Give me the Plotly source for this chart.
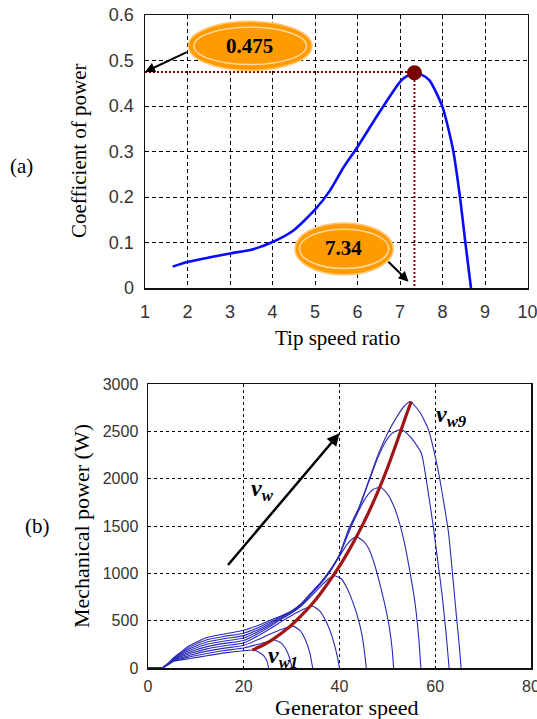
import plotly.graph_objects as go

W, H = 537, 719

# ---------------- (a) Coefficient of power vs tip speed ratio ----------------
tsr = [1.65, 2.0, 2.5, 3.0, 3.5, 4.0, 4.5, 5.0, 5.35, 5.67, 6.0, 6.5, 7.0, 7.15, 7.34, 7.5,
       7.69, 8.0, 8.25, 8.41, 8.53, 8.67]
cp = [0.047, 0.057, 0.067, 0.076, 0.084, 0.101, 0.127, 0.172, 0.214, 0.265, 0.310, 0.384,
      0.453, 0.465, 0.472, 0.469, 0.457, 0.398, 0.303, 0.201, 0.106, 0.0]
opt_tsr = 7.34
opt_cp = 0.475
tsr_ticks = [1, 2, 3, 4, 5, 6, 7, 8, 9, 10]
cp_ticks = [0, 0.1, 0.2, 0.3, 0.4, 0.5, 0.6]

# ---------------- (b) Mechanical power vs generator speed ----------------
vw1_speed = [0, 3, 4.2, 5.4, 8.8, 12.3, 16, 20, 21.8, 22.4, 24.1, 24.8, 25.2]
vw1_power = [0, 2, 35, 72, 100, 130, 160, 183, 190, 188, 134, 80, 0]

vw2_speed = [0, 3, 4.2, 5.4, 8.8, 12.3, 16, 20, 23, 25, 26.4, 27.8, 28.9, 29.6, 30.1]
vw2_power = [0, 2, 37, 77, 118, 154, 185, 212, 250, 280, 295, 265, 190, 100, 0]

vw3_speed = [0, 3, 4.2, 5.4, 8.8, 12.3, 16, 20, 23, 26, 28, 30.4, 31.8, 32.9, 33.8, 34.4]
vw3_power = [0, 2, 39, 82, 135, 178, 210, 238, 300, 370, 410, 440, 395, 295, 160, 0]

vw4_speed = [0, 3, 4.2, 5.4, 8.8, 12.3, 16, 20, 23, 26, 28, 30, 32, 34.3, 35.8, 37.1, 38.2,
             38.9, 39.5, 40]
vw4_power = [0, 2, 41, 87, 153, 202, 235, 264, 340, 430, 495, 555, 610, 655, 605, 502, 370,
             254, 130, 0]

vw5_speed = [0, 3, 4.2, 5.4, 8.8, 12.3, 16, 20, 23, 26, 28, 30, 32, 34, 36, 37.5, 38.9, 40.3,
             41.4, 42.6, 43.6, 44.4, 45, 45.6]
vw5_power = [0, 2, 43, 92, 170, 226, 260, 290, 365, 455, 520, 580, 655, 755, 860, 935, 975,
             945, 860, 720, 573, 420, 254, 0]

vw6_speed = [0, 3, 4.2, 5.4, 8.8, 12.3, 16, 20, 23, 26, 28, 30, 32, 34, 36, 38, 40, 41.5, 42.6,
             43.6, 45, 46.1, 47.4, 48.6, 49.6, 50.4, 51, 51.3]
vw6_power = [0, 2, 45, 97, 188, 250, 285, 316, 385, 470, 530, 588, 665, 775, 885, 1015, 1180,
             1300, 1360, 1385, 1340, 1262, 1080, 855, 640, 431, 200, 0]

vw7_speed = [0, 3, 4.2, 5.4, 8.8, 12.3, 16, 20, 23, 26, 28, 30, 32, 34, 36, 38, 40, 42, 44,
             45.5, 47, 48.6, 50, 51.4, 52.6, 53.6, 54.7, 55.7, 56.5, 57]
vw7_power = [0, 2, 47, 102, 205, 274, 310, 342, 405, 485, 540, 594, 672, 782, 893, 1025, 1192,
             1440, 1660, 1800, 1885, 1910, 1840, 1703, 1520, 1315, 1020, 714, 350, 0]

vw8_speed = [0, 3, 4.2, 5.4, 8.8, 12.3, 16, 20, 23, 26, 28, 30, 32, 34, 36, 38, 40, 42, 44, 46,
             48, 49.5, 51, 53, 55, 57.1, 58.4, 59.6, 60.6, 61.4, 62.2, 62.9]
vw8_power = [0, 2, 49, 107, 223, 298, 335, 368, 425, 500, 548, 598, 677, 787, 897, 1028, 1197,
             1465, 1675, 1950, 2220, 2380, 2480, 2520, 2430, 2269, 1900, 1491, 1100, 785, 400, 0]

vw9_speed = [0, 3, 4.2, 5.4, 8.8, 12.3, 16, 20, 23, 26, 28, 30, 32, 34, 36, 38, 40, 42, 44, 46,
             48, 50, 52, 53.5, 54.8, 56.9, 58.6, 60, 61, 62, 62.8, 63.6, 64.4, 65, 65.4]
vw9_power = [0, 2, 51, 112, 240, 322, 360, 398, 450, 515, 555, 605, 680, 790, 900, 1032, 1200,
             1480, 1690, 1965, 2245, 2475, 2655, 2765, 2815, 2693, 2516, 2233, 1980, 1680, 1420,
             1000, 560, 250, 0]

mppt_speed = [21.8, 24, 26, 28, 30, 32, 34, 36, 38, 40, 42, 44, 46, 48, 50, 52, 54, 55]
mppt_power = [190, 240, 300, 372, 455, 552, 660, 785, 925, 1075, 1245, 1430, 1635, 1860, 2110,
              2390, 2680, 2815]

speed_ticks = [0, 20, 40, 60, 80]
power_ticks = [0, 500, 1000, 1500, 2000, 2500, 3000]

# ---------------- styling ----------------
SERIF = "Liberation Serif, Times New Roman, serif"
SANS = "Liberation Sans, Arial, sans-serif"
BLUE_TOP = "#0a0aff"
BLUE_BOT = "#2a2ab8"
DARK_RED = "#8b0000"
MPPT_RED = "#a01515"
ORANGE = "#ff9a00"


def px_x(p):
    return p / W


def px_y(p):
    return 1 - p / H


fig = go.Figure()

# (a) traces
fig.add_trace(go.Scatter(x=tsr, y=cp, mode="lines",
                         line=dict(color=BLUE_TOP, width=2.6, shape="spline", smoothing=0.6),
                         xaxis="x", yaxis="y", hoverinfo="skip"))
fig.add_trace(go.Scatter(x=[tsr_ticks[0], opt_tsr], y=[opt_cp, opt_cp], mode="lines",
                         line=dict(color=DARK_RED, width=2, dash="2px,2px"),
                         xaxis="x", yaxis="y", hoverinfo="skip"))
fig.add_trace(go.Scatter(x=[opt_tsr, opt_tsr], y=[opt_cp, 0], mode="lines",
                         line=dict(color=DARK_RED, width=2, dash="2px,2px"),
                         xaxis="x", yaxis="y", hoverinfo="skip"))
fig.add_trace(go.Scatter(x=[opt_tsr], y=[opt_cp - 0.002], mode="markers",
                         marker=dict(color="#7a0000", size=15), xaxis="x", yaxis="y",
                         hoverinfo="skip"))

# (b) traces
curves = [(vw1_speed, vw1_power), (vw2_speed, vw2_power), (vw3_speed, vw3_power),
          (vw4_speed, vw4_power), (vw5_speed, vw5_power), (vw6_speed, vw6_power),
          (vw7_speed, vw7_power), (vw8_speed, vw8_power), (vw9_speed, vw9_power)]
for sx, sp in curves:
    fig.add_trace(go.Scatter(x=sx, y=sp, mode="lines",
                             line=dict(color=BLUE_BOT, width=1.1, shape="spline", smoothing=0.5),
                             xaxis="x2", yaxis="y2", hoverinfo="skip"))
fig.add_trace(go.Scatter(x=mppt_speed, y=mppt_power, mode="lines",
                         line=dict(color=MPPT_RED, width=3.2, shape="spline", smoothing=0.5),
                         xaxis="x2", yaxis="y2", hoverinfo="skip"))

axis_common = dict(showline=True, mirror=True, linecolor="#111", linewidth=1.5,
                   zeroline=False, showgrid=True, gridcolor="#000", gridwidth=1,
                   ticks="", automargin=False, ticklabeloverflow="allow",
                   tickfont=dict(family=SANS, size=18, color="#333"))
small_font = dict(family=SANS, size=16, color="#333")

fig.update_layout(
    width=W, height=H, margin=dict(l=0, r=0, t=0, b=0, autoexpand=False),
    paper_bgcolor="white", plot_bgcolor="white", showlegend=False,
    xaxis=dict(domain=[px_x(145), px_x(527.5)], range=[1, 10], tickvals=tsr_ticks,
               griddash="4px,3px", anchor="y", ticklabelstandoff=7, **axis_common),
    yaxis=dict(domain=[px_y(288), px_y(15)], range=[0, 0.6], tickvals=cp_ticks,
               ticktext=[f"{v:g}" for v in cp_ticks],
               griddash="4px,3px", anchor="x", ticklabelstandoff=6, **axis_common),
    xaxis2=dict(domain=[px_x(148), px_x(531)], range=[0, 80], tickvals=speed_ticks,
                griddash="3px,3px", anchor="y2", ticklabelstandoff=3,
                **{**axis_common, "tickfont": small_font}),
    yaxis2=dict(domain=[px_y(668), px_y(384)], range=[0, 3000], tickvals=power_ticks,
                griddash="3px,3px", anchor="x2", ticklabelstandoff=5,
                **{**axis_common, "tickfont": small_font}),
)

# Callout ellipses (a)
shapes = []
for (x0, x1, y0, y1) in [(2.02, 4.93, 0.478, 0.586), (4.53, 6.84, 0.029, 0.143)]:
    shapes.append(dict(type="circle", xref="x", yref="y", x0=x0, x1=x1, y0=y0, y1=y1,
                       fillcolor=ORANGE, line=dict(color="#ffc870", width=1.5), layer="above"))
    dx = (x1 - x0) * 0.045
    dy = (y1 - y0) * 0.12
    shapes.append(dict(type="circle", xref="x", yref="y", x0=x0 + dx, x1=x1 - dx,
                       y0=y0 + dy, y1=y1 - dy, fillcolor="rgba(0,0,0,0)",
                       line=dict(color="#ffd9a0", width=1.5), layer="above"))
fig.update_layout(shapes=shapes)

ann = []
# arrows (a)
ann.append(dict(xref="x", yref="y", axref="x", ayref="y", x=1.0, y=opt_cp, ax=2.02, ay=0.52,
                showarrow=True, arrowhead=2, arrowsize=1, arrowwidth=2, arrowcolor="#000",
                text=" ", font=dict(size=1)))
ann.append(dict(xref="x", yref="y", axref="x", ayref="y", x=7.2, y=0.014, ax=6.69, ay=0.061,
                showarrow=True, arrowhead=2, arrowsize=1, arrowwidth=2, arrowcolor="#000",
                text=" ", font=dict(size=1)))
ann.append(dict(xref="x", yref="y", x=3.47, y=0.532, showarrow=False,
                text=f"<b>{opt_cp:.3f}</b>", font=dict(family=SERIF, size=21, color="#000")))
ann.append(dict(xref="x", yref="y", x=5.68, y=0.088, showarrow=False,
                text=f"<b>{opt_tsr:.2f}</b>", font=dict(family=SERIF, size=21, color="#000")))

# arrow (b)
ann.append(dict(xref="x2", yref="y2", axref="x2", ayref="y2", x=40, y=2480, ax=16.4, ay=1070,
                showarrow=True, arrowhead=2, arrowsize=1, arrowwidth=2.5, arrowcolor="#000",
                text=" ", font=dict(size=1)))
ann.append(dict(xref="x2", yref="y2", x=21.0, y=1881, xanchor="left", yanchor="middle",
                showarrow=False, text="<b><i>v</i></b><sub><b><i>w</i></b></sub>",
                font=dict(family=SERIF, size=24, color="#000")))
ann.append(dict(xref="x2", yref="y2", x=59.8, y=2660, xanchor="left", yanchor="middle",
                showarrow=False, text="<b><i>v</i></b><sub><b><i>w9</i></b></sub>",
                font=dict(family=SERIF, size=24, color="#000")))
ann.append(dict(xref="x2", yref="y2", x=24.6, y=120, xanchor="left", yanchor="middle",
                showarrow=False, text="<b><i>v</i></b><sub><b><i>w1</i></b></sub>",
                font=dict(family=SERIF, size=24, color="#000")))


def label(text, x, y, size, angle=0):
    ann.append(dict(xref="paper", yref="paper", x=px_x(x), y=px_y(y), showarrow=False,
                    xanchor="center", yanchor="middle", textangle=angle, text=text,
                    font=dict(family=SERIF, size=size, color="#000")))


# titles & panel labels
label("Coefficient of power", 79, 151, 21, -90)
label("Tip speed ratio", 337, 338, 21)
label("Mechanical power (W)", 81, 526, 22, -90)
label("Generator speed", 347, 707, 22)
label("(a)", 21, 166, 21)
label("(b)", 37, 526, 21)
fig.update_layout(annotations=ann)

# remove the default page margin so the figure fills the window exactly
fig.write_html("out.html",
               config={"displayModeBar": False, "staticPlot": True},
               post_script="document.body.style.margin='0';"
                           "document.body.style.overflow='hidden';"
                           "document.documentElement.style.overflow='hidden';")
